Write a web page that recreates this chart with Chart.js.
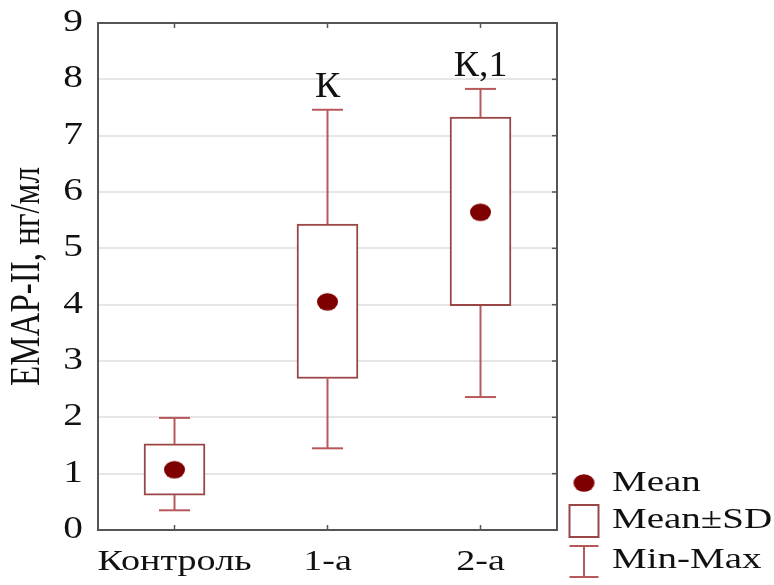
<!DOCTYPE html>
<html>
<head>
<meta charset="utf-8">
<script src="https://cdn.jsdelivr.net/npm/chart.js@4.4.0/dist/chart.umd.min.js"></script>
<style>
html,body{margin:0;padding:0;background:#fff;}
#wrap{width:774px;height:585px;}
</style>
</head>
<body>
<div id="wrap"><canvas id="c" width="774" height="585"></canvas></div>
<script>
const categories = ["Контроль", "1-а", "2-а"];
const meanValues = [1.07, 4.05, 5.64];
const sdLow = [0.62, 2.69, 3.98];
const sdHigh = [1.53, 5.43, 7.33];
const minValues = [0.35, 1.45, 2.36];
const maxValues = [1.99, 7.46, 7.83];
const annotations = ["", "К", "К,1"];
const legendLabels = ["Mean", "Mean±SD", "Min-Max"];
const yTicks = [0, 1, 2, 3, 4, 5, 6, 7, 8, 9];

const SERIF = '"Liberation Serif", "DejaVu Serif", serif';
const BOX_COLOR = '#9a4646';
const WHISKER_COLOR = '#b8585b';
const MEAN_COLOR = '#7f0000';

function makeDot(rx, ry) {
  const c = document.createElement('canvas');
  c.width = Math.ceil(rx * 2) + 2; c.height = Math.ceil(ry * 2) + 2;
  const g = c.getContext('2d');
  g.fillStyle = MEAN_COLOR;
  g.beginPath();
  g.ellipse(c.width / 2, c.height / 2, rx, ry, 0, 0, Math.PI * 2);
  g.fill();
  return c;
}
const dotImg = makeDot(10.5, 8.8);

let textStretch = 1.27;
const stretchText = {
  id: 'stretchText',
  beforeDraw(chart) {
    const ctx = chart.ctx;
    const orig = CanvasRenderingContext2D.prototype.fillText;
    ctx.fillText = function (text, x, y, maxW) {
      const m = ctx.getTransform();
      const p = m.transformPoint(new DOMPoint(x, y));
      ctx.save();
      ctx.setTransform(new DOMMatrix().translate(p.x, p.y).scale(textStretch, 1).translate(-p.x, -p.y).multiply(m));
      if (maxW === undefined) orig.call(ctx, text, x, y); else orig.call(ctx, text, x, y, maxW);
      ctx.restore();
    };
  }
};

const extras = {
  id: 'extras',
  beforeDatasetsDraw(chart) {
    const {ctx, scales: {x, y}} = chart;
    ctx.save();
    ctx.strokeStyle = WHISKER_COLOR;
    ctx.lineWidth = 2;
    categories.forEach((c, i) => {
      const cx = x.getPixelForValue(i);
      const half = 15.5;
      [[maxValues[i], sdHigh[i]], [sdLow[i], minValues[i]]].forEach(([a, b]) => {
        ctx.beginPath();
        ctx.moveTo(cx, y.getPixelForValue(a));
        ctx.lineTo(cx, y.getPixelForValue(b));
        ctx.stroke();
      });
      [maxValues[i], minValues[i]].forEach(v => {
        const py = y.getPixelForValue(v);
        ctx.beginPath();
        ctx.moveTo(cx - half, py);
        ctx.lineTo(cx + half, py);
        ctx.stroke();
      });
    });
    ctx.restore();
  },
  afterDraw(chart) {
    const {ctx, chartArea: a, scales: {x, y}} = chart;
    ctx.save();
    ctx.strokeStyle = '#555';
    ctx.lineWidth = 2;
    ctx.strokeRect(a.left, a.top, a.right - a.left, a.bottom - a.top);
    ctx.lineWidth = 1.5;
    categories.forEach((c, i) => {
      const px = x.getPixelForValue(i);
      ctx.beginPath();
      ctx.moveTo(px, a.top); ctx.lineTo(px, a.top + 5);
      ctx.moveTo(px, a.bottom); ctx.lineTo(px, a.bottom - 5);
      ctx.stroke();
    });
    yTicks.forEach(v => {
      const py = y.getPixelForValue(v);
      ctx.beginPath();
      ctx.moveTo(a.right, py); ctx.lineTo(a.right - 5, py);
      ctx.stroke();
    });
    // significance annotations
    textStretch = 1.05;
    ctx.fillStyle = '#111';
    ctx.font = '36px ' + SERIF;
    ctx.textAlign = 'center';
    ctx.textBaseline = 'alphabetic';
    annotations.forEach((t, i) => {
      if (!t) return;
      ctx.fillText(t, x.getPixelForValue(i), y.getPixelForValue(maxValues[i]) - 13);
    });
    // legend
    const lx = a.right + 27, tx = a.right + 55;
    ctx.drawImage(dotImg, lx - dotImg.width / 2, 483 - dotImg.height / 2);
    ctx.strokeStyle = BOX_COLOR; ctx.lineWidth = 2;
    ctx.strokeRect(lx - 14.5, 505, 29, 32);
    ctx.strokeStyle = WHISKER_COLOR;
    ctx.beginPath();
    ctx.moveTo(lx - 14.5, 546); ctx.lineTo(lx + 14.5, 546);
    ctx.moveTo(lx, 546); ctx.lineTo(lx, 577);
    ctx.moveTo(lx - 14.5, 577); ctx.lineTo(lx + 14.5, 577);
    ctx.stroke();
    textStretch = 1.3;
    ctx.fillStyle = '#111';
    ctx.font = '30px ' + SERIF;
    ctx.textAlign = 'left';
    ctx.textBaseline = 'middle';
    ctx.fillText(legendLabels[0], tx, 483);
    ctx.fillText(legendLabels[1], tx, 520);
    ctx.fillText(legendLabels[2], tx, 560);
    ctx.restore();
    textStretch = 1.27;
    delete ctx.fillText;
  }
};

new Chart(document.getElementById('c'), {
  data: {
    labels: categories,
    datasets: [
      {
        type: 'line',
        label: legendLabels[0],
        data: meanValues,
        showLine: false,
        pointStyle: dotImg,
        pointRadius: 10,
        pointHoverRadius: 10,
        order: 0
      },
      {
        type: 'bar',
        label: legendLabels[1],
        data: sdLow.map((l, i) => [l, sdHigh[i]]),
        backgroundColor: '#ffffff',
        borderColor: BOX_COLOR,
        borderWidth: 2,
        borderSkipped: false,
        barThickness: 61,
        order: 1
      }
    ]
  },
  options: {
    responsive: false,
    animation: false,
    layout: {padding: {left: 0, right: 217, top: 23, bottom: 0}},
    plugins: {legend: {display: false}, tooltip: {enabled: false}},
    scales: {
      x: {
        type: 'category',
        offset: true,
        grid: {display: false, drawTicks: false},
        border: {display: false},
        ticks: {color: '#111', font: {family: SERIF, size: 30}, padding: 14, maxRotation: 0, autoSkip: false},
        afterFit(s) { s.height = 55; s.paddingLeft = 0; s.paddingRight = 0; }
      },
      y: {
        min: 0, max: 9,
        grid: {color: '#e6e6e6', lineWidth: 2, drawTicks: false},
        border: {display: false},
        ticks: {stepSize: 1, color: '#111', font: {family: SERIF, size: 31}, padding: 15},
        title: {display: true, text: 'EMAP-II, нг/мл', color: '#111', font: {family: SERIF, size: 33}, padding: {top: 8, bottom: 0}},
        afterFit(s) { s.width = 98; s.paddingTop = 0; s.paddingBottom = 0; }
      }
    }
  },
  plugins: [stretchText, extras]
});
</script>
</body>
</html>
